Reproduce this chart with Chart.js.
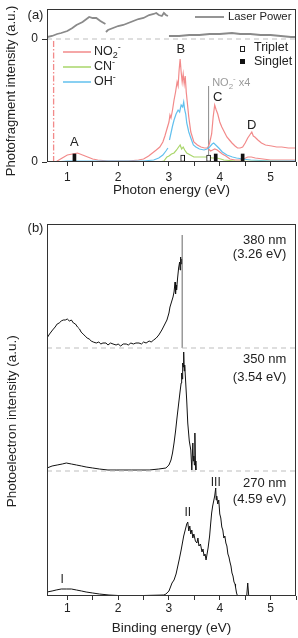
<!DOCTYPE html>
<html><head><meta charset="utf-8">
<script src="https://cdn.jsdelivr.net/npm/chart.js@4.4.0/dist/chart.umd.min.js"></script>
<style>
html,body{margin:0;padding:0;background:#fff;width:298px;height:638px;overflow:hidden}
#wa{position:absolute;left:0;top:0;width:298px;height:200px}
#wb{position:absolute;left:0;top:205px;width:298px;height:433px}
canvas{display:block}
</style></head><body>
<div id="wa"><canvas id="ca" width="298" height="200"></canvas></div>
<div id="wb"><canvas id="cb" width="298" height="433"></canvas></div>
<script>
// ---------------- Panel (a) data ----------------
const photonE_NO2 = [0.60,0.76,0.80,0.90,1.00,1.10,1.20,1.30,1.40,1.50,
  1.60,1.80,2.00,2.20,2.40,2.50,2.60,2.70,2.75,2.82,
  2.88,2.92,2.96,3.00,3.02,3.04,3.07,3.10,3.13,3.16,
  3.18,3.20,3.22,3.24,3.26,3.28,3.30,3.32,3.34,3.36,
  3.39,3.43,3.49,3.56,3.63,3.70,3.75,3.78,3.80,3.84,
  3.87,3.90,3.93,3.96,4.00,4.04,4.09,4.14,4.19,4.24,
  4.30,4.35,4.40,4.45,4.50,4.55,4.59,4.63,4.66,4.69,
  4.75,4.82,4.90,5.02,5.12,5.22,5.35,5.47,5.50];
const no2Intensity = [0,0,1,4,7,8,9,7,5,3,
  2,1,1,1,2,3,6,10,12,15,
  20,26,33,40,47,44,52,62,70,80,
  76,92,103,90,80,88,78,86,70,60,
  45,30,20,17,15,14,14,16,19,28,
  45,57,52,48,40,35,30,25,22,19,
  16,14,14,15,19,24,27,30,26,25,
  22,19,17,16,15,15,14,14,14];
const photonE_NO2x1 = [3.78,3.82,3.86,3.90,3.95,4.00,4.05,4.12,4.20,4.30,4.40,4.47,4.55,4.62,4.70,4.85,5.00,5.25,5.50];
const no2x1Intensity = [13,11,12,13,12,10,8,6,3,2,2,3,5,5,4,3,2,2,2];
const photonE_OH = [0.75,1.00,1.50,2.00,2.50,2.70,2.80,2.88,2.94,2.98,
  2.99,3.01,3.04,3.07,3.10,3.14,3.18,3.21,3.24,3.27,
  3.29,3.31,3.33,3.35,3.39,3.43,3.48,3.53,3.60,3.69,
  3.75,3.80,3.85,3.88,3.92,3.98,4.05,4.14,4.25,4.33,
  4.45,4.61,5.00,5.50];
const ohIntensity = [0,1,1,1,1,2,4,7,11,14,
  null,22,29,36,42,48,52,50,57,55,
  60,52,48,39,30,24,17,15,13,12,
  13,15,18,19,17,14,10,7,5,4,
  3,2,1,1];
const photonE_CN = [0.75,2.00,2.80,2.90,2.96,3.00,3.05,3.10,3.15,3.19,
  3.22,3.25,3.28,3.31,3.35,3.42,3.49,3.60,3.75,3.85,
  3.94,4.02,4.08,4.30,5.50];
const cnIntensity = [0,0,0,1,5,6,8,9,12,15,
  17,13,15,12,9,7,5,5,5,4,
  4,3,2,1,0.5];
const laserE = [0.61,0.70,0.80,0.88,1.00,1.10,1.18,1.30,1.43,1.50,
  1.57,1.65,1.75,1.755,1.76,1.80,1.90,2.00,2.10,2.20,
  2.30,2.40,2.50,2.61,2.70,2.75,2.80,2.86,2.90,2.94,
  2.98,2.99,3.00,3.20,3.40,3.60,3.80,4.00,4.24,4.40,
  4.60,4.80,5.00,5.20,5.40,5.50];
const laserPower = [2,3,5,6,8,11,14,17,22,21,
  21,18,15,null,7,9,11,13,14,16,
  18,20,21,24,25,26,24,23,26,24,
  23,null,3,3,4,4,5,5,6,5,
  5,4,4,3,2,2];
const tripletE = [3.27, 3.78];
const singletE = [1.14, 3.92, 4.45];
const ionThresholdE = 0.73;   // dash-dot line
const scaleBreakE = 3.78;      // NO2- x4 from here

// ---------------- Panel (b) data ----------------
const bindE_380 = [0.60,0.65,0.71,0.76,0.80,0.84,0.88,0.92,0.96,1.00,
  1.04,1.08,1.12,1.16,1.20,1.24,1.27,1.31,1.35,1.39,
  1.43,1.47,1.51,1.57,1.62,1.66,1.70,1.76,1.80,1.85,
  1.90,1.96,2.00,2.05,2.10,2.16,2.20,2.25,2.30,2.35,
  2.41,2.46,2.50,2.55,2.61,2.65,2.70,2.75,2.80,2.86,
  2.90,2.96,3.00,3.02,3.05,3.08,3.10,3.12,3.13,3.14,
  3.15,3.17,3.19,3.21,3.22,3.23,3.24,3.25];
const pes_380 = [10,14,18,21,24,25,27,28,28,29,
  27,28,25,24,21,19,16,14,12,10,
  9,7,6,5,6,4,5,5,3,5,
  4,3,4,2,4,4,3,5,4,5,
  5,4,6,5,7,6,8,10,13,18,
  22,28,35,41,46,51,56,66,54,63,
  58,70,80,86,78,91,84,89];
const bindE_350 = [0.60,0.70,0.80,0.90,0.98,1.08,1.18,1.28,1.37,1.50,
  1.63,1.80,1.96,2.27,2.61,2.80,2.94,3.00,3.04,3.07,
  3.10,3.13,3.16,3.19,3.22,3.24,3.25,3.26,3.27,3.28,
  3.29,3.30,3.31,3.33,3.35,3.37,3.40,3.43,3.45,3.47,
  3.48,3.49,3.50,3.51,3.52,3.53];
const pes_350 = [3,5,6,7,8,7,6,5,4,3,
  2,1,1,1,1,2,3,6,11,18,
  28,40,54,67,80,88,98,92,108,104,
  119,100,106,88,70,48,30,21,1,28,
  10,15,6,38,10,1];
const bindE_270 = [0.60,0.70,0.78,0.88,0.98,1.08,1.18,1.28,1.37,1.50,
  1.63,1.82,2.00,2.50,2.90,2.94,3.00,3.06,3.10,3.14,
  3.20,3.24,3.29,3.32,3.35,3.37,3.39,3.41,3.43,3.45,
  3.47,3.49,3.52,3.55,3.57,3.59,3.62,3.65,3.67,3.69,
  3.71,3.73,3.75,3.77,3.80,3.82,3.84,3.86,3.88,3.90,
  3.92,3.93,3.94,3.96,3.98,4.00,4.02,4.04,4.06,4.08,
  4.10,4.12,4.14,4.16,4.18,4.20,4.22,4.24,4.26,4.28,
  4.30,4.31,4.33,4.35,4.53,4.55,4.57];
const pes_270 = [4,5,6,7,7,7,6,5,4,3,
  2,1,0.5,0.5,1,2,5,13,16,22,
  36,46,60,66,72,74,65,70,62,66,
  58,62,55,53,58,50,52,44,47,40,
  42,36,42,48,60,72,83,90,95,100,
  108,96,100,92,96,82,78,69,66,58,
  60,53,50,42,39,34,30,23,20,14,
  12,9,3,0,0,13,0];
const photonLimit380 = 3.26;

// ---------------- ticks ----------------
const xTicks = [1,1.5,2,2.5,3,3.5,4,4.5,5,5.5];
const xTickLabels = ['1','','2','','3','','4','','5',''];
const yTicksA = [0, 123];          // lower zero, laser-power zero
const yTickLabelsA = ['0','0'];

// ---------------- layout constants ----------------
const LASER_BASE = 123;
const OFFSET_380 = 248, OFFSET_350 = 125, OFFSET_270 = 0;

const FONT = '"Liberation Sans", Arial, Helvetica, sans-serif';
Chart.defaults.font.family = FONT;
Chart.defaults.color = '#222';
const AX = '#333';
const PINK = '#f28a8a', GREEN = '#a9d66a', BLUE = '#62c0ee', GREY = '#8a8a8a', DASHGREY = '#bdbdbd';

function pts(xs, ys, off) {
  return xs.map((x, i) => ({x: x, y: ys[i] == null ? null : ys[i] + (off || 0)}));
}
function lineDS(data, color, width, extra) {
  return Object.assign({type: 'line', data: data, borderColor: color, backgroundColor: color,
    borderWidth: width, pointRadius: 0, tension: 0, fill: false, spanGaps: false}, extra || {});
}
function xScale(title, tickPad, axisH) {
  return {
    type: 'linear', min: 0.6, max: 5.5, offset: false,
    afterBuildTicks: s => { s.ticks = xTicks.map(v => ({value: v})); },
    ticks: {autoSkip: false, maxRotation: 0, padding: tickPad, font: {size: 12}, color: '#222',
      callback: (v, i) => xTickLabels[i]},
    grid: {drawOnChartArea: false, drawTicks: true, tickLength: 4, tickColor: AX, offset: false},
    border: {display: false},
    title: {display: true, text: title, font: {size: 13.5}, color: '#222', padding: {top: 0, bottom: 2}},
    afterFit: s => { s.height = axisH; s.paddingLeft = 0; s.paddingRight = 0; }
  };
}
function richText(ctx, parts, x, y, size, color, align) {
  ctx.save();
  ctx.fillStyle = color; ctx.textBaseline = 'middle'; ctx.textAlign = 'left';
  let w = 0;
  parts.forEach(p => { ctx.font = ((p.sub || p.sup) ? size * 0.72 : size) + 'px ' + FONT; w += ctx.measureText(p.t).width; });
  let cx = align === 'right' ? x - w : (align === 'center' ? x - w / 2 : x);
  parts.forEach(p => {
    const s = (p.sub || p.sup) ? size * 0.72 : size;
    ctx.font = s + 'px ' + FONT;
    const dy = p.sub ? size * 0.32 : (p.sup ? -size * 0.38 : 0);
    ctx.fillText(p.t, cx, y + dy);
    cx += ctx.measureText(p.t).width;
  });
  ctx.restore();
}
function frame(chart) {
  const {ctx, chartArea: a} = chart;
  ctx.save(); ctx.strokeStyle = AX; ctx.lineWidth = 1;
  ctx.strokeRect(Math.round(a.left) + 0.5, Math.round(a.top) + 0.5, Math.round(a.right - a.left) - 1, Math.round(a.bottom - a.top) - 1);
  ctx.restore();
}
function dataLabels(chart, list) {
  const {ctx} = chart; const xs = chart.scales.x, ys = chart.scales.y;
  list.forEach(l => {
    const px = xs.getPixelForValue(l.x), py = ys.getPixelForValue(l.y);
    if (l.parts) { richText(ctx, l.parts, px, py, l.size, l.color || '#222', l.align || 'center'); }
    else {
      ctx.save(); ctx.font = (l.weight || '') + ' ' + l.size + 'px ' + FONT; ctx.fillStyle = l.color || '#222';
      ctx.textAlign = l.align || 'center'; ctx.textBaseline = 'middle'; ctx.fillText(l.t, px, py); ctx.restore();
    }
  });
}

// ---------------- Chart (a) ----------------
const annA = [
  {t: 'A', x: 1.14, y: 20, size: 13},
  {t: 'B', x: 3.235, y: 113, size: 13},
  {t: 'C', x: 3.96, y: 65, size: 13},
  {t: 'D', x: 4.63, y: 37, size: 13},
  {parts: [{t: 'NO'}, {t: '2', sub: true}, {t: '-', sup: true}, {t: ' x4'}], x: 3.85, y: 79, size: 11, color: '#9a9a9a', align: 'left'}
];
const pluginA = {
  id: 'decorA',
  afterDraw(chart) {
    frame(chart);
    const ctx = chart.ctx;
    dataLabels(chart, annA);
    // panel tag
    ctx.save(); ctx.font = '13px ' + FONT; ctx.fillStyle = '#222'; ctx.textAlign = 'center'; ctx.textBaseline = 'middle';
    ctx.fillText('(a)', 35.5, 15); ctx.restore();
    // laser power legend
    ctx.save(); ctx.strokeStyle = GREY; ctx.lineWidth = 1.8;
    ctx.beginPath(); ctx.moveTo(195, 17); ctx.lineTo(224, 17); ctx.stroke(); ctx.restore();
    richText(ctx, [{t: 'Laser Power'}], 228, 17, 11.3, '#222', 'left');
    // species legend
    [[PINK, [{t: 'NO'}, {t: '2', sub: true}, {t: '-', sup: true}], 52],
     [GREEN, [{t: 'CN'}, {t: '-', sup: true}], 67],
     [BLUE, [{t: 'OH'}, {t: '-', sup: true}], 82]].forEach(it => {
      ctx.save(); ctx.strokeStyle = it[0]; ctx.lineWidth = 1.5;
      ctx.beginPath(); ctx.moveTo(63, it[2]); ctx.lineTo(91, it[2]); ctx.stroke(); ctx.restore();
      richText(ctx, it[1], 94, it[2], 12.5, '#222', 'left');
    });
    // triplet / singlet legend
    ctx.save(); ctx.strokeStyle = '#222'; ctx.lineWidth = 1; ctx.strokeRect(240.5, 46.5, 4, 5);
    ctx.fillStyle = '#111'; ctx.fillRect(240, 59, 5, 5); ctx.restore();
    richText(ctx, [{t: 'Triplet'}], 254, 48, 12.5, '#222', 'left');
    richText(ctx, [{t: 'Singlet'}], 254, 62, 12.5, '#222', 'left');
  }
};
new Chart(document.getElementById('ca'), {
  type: 'line',
  data: {datasets: [
    {type: 'bar', data: tripletE.map(e => ({x: e, y: 7})), backgroundColor: '#fff', borderColor: '#111', borderWidth: 1,
      barThickness: 4, grouped: false, borderSkipped: false},
    {type: 'bar', data: singletE.map(e => ({x: e, y: 8})), backgroundColor: '#111', borderColor: '#111', borderWidth: 0,
      barThickness: 3, grouped: false},
    lineDS(pts(photonE_CN, cnIntensity), GREEN, 1.2),
    lineDS(pts(photonE_OH, ohIntensity), BLUE, 1.2),
    lineDS(pts(photonE_NO2, no2Intensity), PINK, 1.2),
    lineDS(pts(photonE_NO2x1, no2x1Intensity), PINK, 1.2),
    lineDS([{x: scaleBreakE, y: 0}, {x: scaleBreakE, y: 76}], '#8c8c8c', 1),
    lineDS([{x: ionThresholdE, y: 0}, {x: ionThresholdE, y: LASER_BASE}], PINK, 1.3, {borderDash: [6, 2, 1.5, 2]}),
    lineDS([{x: 0.6, y: LASER_BASE}, {x: 5.5, y: LASER_BASE}], DASHGREY, 1, {borderDash: [5, 4]}),
    lineDS(pts(laserE, laserPower, LASER_BASE), GREY, 1.8)
  ]},
  options: {
    responsive: false, animation: false, devicePixelRatio: 1,
    layout: {padding: {top: 9, right: 2, left: 0, bottom: 0}},
    plugins: {legend: {display: false}, tooltip: {enabled: false}},
    scales: {
      x: xScale('Photon energy (eV)', 4, 38),
      y: {
        type: 'linear', min: 0, max: 153,
        afterBuildTicks: s => { s.ticks = yTicksA.map(v => ({value: v})); },
        ticks: {padding: 4, font: {size: 12}, color: '#222', callback: (v, i) => yTickLabelsA[i]},
        grid: {drawOnChartArea: false, drawTicks: true, tickLength: 5, tickColor: AX},
        border: {display: false},
        title: {display: true, text: 'Photofragment intensity (a.u.)   ', font: {size: 13}, color: '#222', padding: {top: 4, bottom: 0}},
        afterFit: s => { s.width = 47; s.paddingTop = 0; s.paddingBottom = 0; }
      }
    }
  },
  plugins: [pluginA]
});

// ---------------- Chart (b) ----------------
const annB = [
  {t: '380 nm', x: 5.31, y: 356, size: 13, align: 'right'},
  {t: '(3.26 eV)', x: 5.31, y: 342, size: 13, align: 'right'},
  {t: '350 nm', x: 5.31, y: 237, size: 13, align: 'right'},
  {t: '(3.54 eV)', x: 5.31, y: 219, size: 13, align: 'right'},
  {t: '270 nm', x: 5.31, y: 113, size: 13, align: 'right'},
  {t: '(4.59 eV)', x: 5.31, y: 97, size: 13, align: 'right'},
  {t: 'I', x: 0.90, y: 16, size: 12},
  {t: 'II', x: 3.37, y: 83, size: 12},
  {t: 'III', x: 3.92, y: 113, size: 12}
];
const pluginB = {
  id: 'decorB',
  afterDraw(chart) {
    frame(chart);
    dataLabels(chart, annB);
    const ctx = chart.ctx;
    ctx.save(); ctx.font = '13px ' + FONT; ctx.fillStyle = '#222'; ctx.textAlign = 'center'; ctx.textBaseline = 'middle';
    ctx.fillText('(b)', 35.5, 23.5); ctx.restore();
  }
};
new Chart(document.getElementById('cb'), {
  type: 'line',
  data: {datasets: [
    lineDS([{x: 0.6, y: OFFSET_380}, {x: 5.5, y: OFFSET_380}], DASHGREY, 1, {borderDash: [5, 4]}),
    lineDS([{x: 0.6, y: OFFSET_350}, {x: 5.5, y: OFFSET_350}], DASHGREY, 1, {borderDash: [5, 4]}),
    lineDS([{x: photonLimit380, y: OFFSET_380}, {x: photonLimit380, y: OFFSET_380 + 113}], '#666', 1),
    lineDS(pts(bindE_380, pes_380, OFFSET_380), '#111', 1),
    lineDS(pts(bindE_350, pes_350, OFFSET_350), '#111', 1),
    lineDS(pts(bindE_270, pes_270, OFFSET_270), '#111', 1)
  ]},
  options: {
    responsive: false, animation: false, devicePixelRatio: 1,
    layout: {padding: {top: 19, right: 2, left: 0, bottom: 0}},
    plugins: {legend: {display: false}, tooltip: {enabled: false}},
    scales: {
      x: xScale('Binding energy (eV)', 1, 42),
      y: {
        type: 'linear', min: 0, max: 372,
        afterBuildTicks: s => { s.ticks = []; },
        ticks: {display: false},
        grid: {display: false},
        border: {display: false},
        title: {display: true, text: 'Photoelectron intensity (a.u.)      ', font: {size: 13.5}, color: '#222', padding: {top: 4, bottom: 0}},
        afterFit: s => { s.width = 47; s.paddingTop = 0; s.paddingBottom = 0; }
      }
    }
  },
  plugins: [pluginB]
});
</script>
</body></html>
